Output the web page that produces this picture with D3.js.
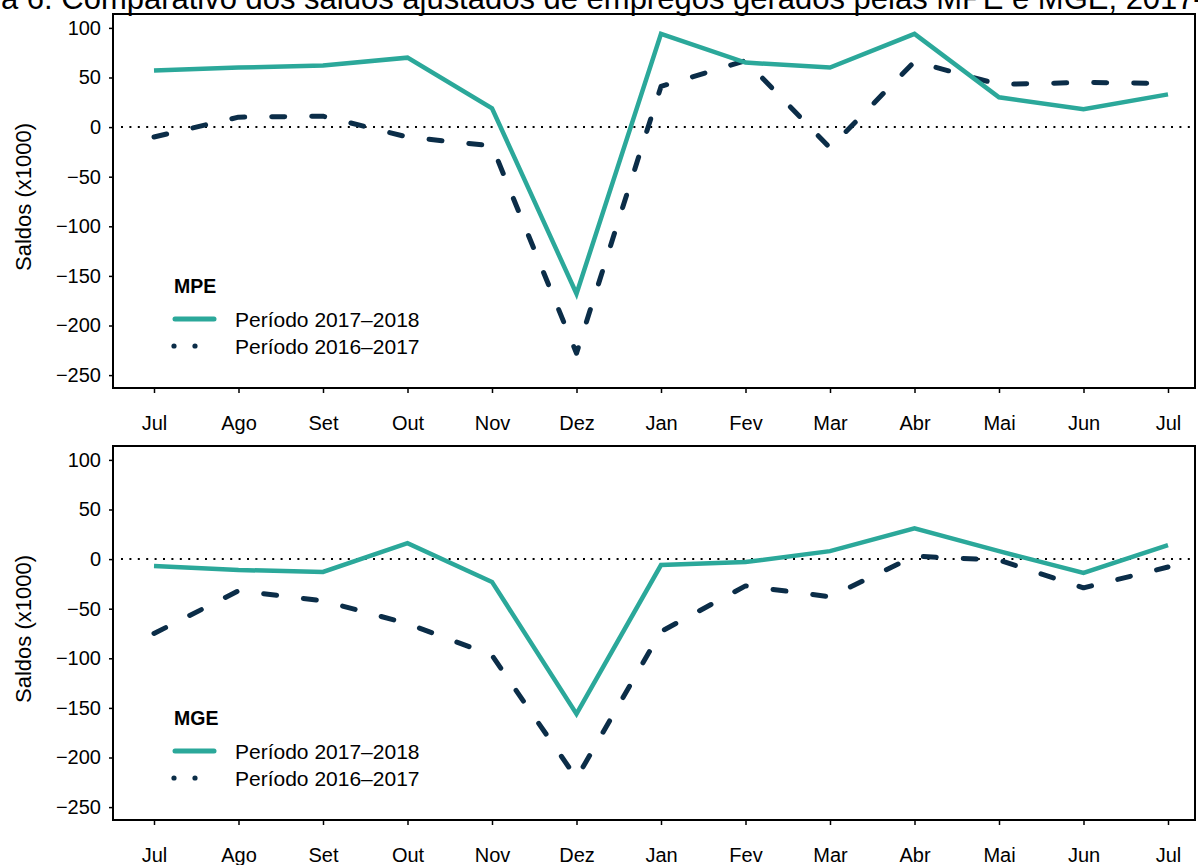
<html>
<head>
<style>
  body { margin: 0; background: #fff; }
  svg { font-family: "Liberation Sans", Arial, sans-serif; }
  .axis path { display: none; }
  .axis line { stroke: #000; stroke-width: 1.5; }
  .axis text { fill: #000; font-size: 20px; }
</style>
</head>
<script src="https://d3js.org/d3.v7.min.js"></script>
<body>
<div id="chart"></div>
<script>

// months Jul/2017 .. Jul/2018
var months = ["Jul", "Ago", "Set", "Out", "Nov", "Dez", "Jan", "Fev", "Mar", "Abr", "Mai", "Jun", "Jul"];
var yTicks = [100, 50, 0, -50, -100, -150, -200, -250];

// saldos (x1000)
var mpe1718 = [57, 60, 62, 70, 19, -168, 94, 65, 60, 94, 30, 18, 33];
var mpe1617 = [-10, 10, 11, -10, -19, -228, 41, 67, -21, 66, 43, 45, 44];
var mge1718 = [-7, -11, -13, 16, -23, -156, -6, -3, 8, 31, 8, -14, 14];
var mge1617 = [-75, -32, -42, -65, -97, -221, -73, -27, -38, 3, -1, -29, -8];

var seriesNames = ["Período 2017–2018", "Período 2016–2017"];
var colors = ["#2ba89a", "#0b2d48"];

var W = 1198, H = 865;
var left = 113, right = 1195;

var svg = d3.select("#chart").append("svg")
    .attr("width", W)
    .attr("height", H);

// title, partly outside the picture like the reference
var title = svg.append("text")
    .attr("y", 9)
    .style("font-size", "30px")
    .style("fill", "#000")
    .text("Figura 6: Comparativo dos saldos ajustados de empregos gerados pelas MPE e MGE, 2017–2018");
var node = title.node();
// "a 6: ... 2017" is the part that shows
var visible = node.getSubStringLength(5, 79);
var fs = 30 * 1194 / visible;
title.style("font-size", fs + "px");
title.attr("x", -node.getSubStringLength(0, 5) + 1);

var x = d3.scalePoint()
    .domain(d3.range(months.length))
    .range([154, 1168]);

function drawPanel(top, bottom, s1, s2, name) {
  var y = d3.scaleLinear().domain([-263, 114]).range([bottom, top]);

  var g = svg.append("g");

  // box
  g.append("rect")
      .attr("x", left)
      .attr("y", top)
      .attr("width", right - left)
      .attr("height", bottom - top)
      .style("fill", "none")
      .style("stroke", "#000")
      .style("stroke-width", 2);

  g.append("g")
      .attr("class", "axis")
      .attr("transform", "translate(" + left + ",0)")
      .call(d3.axisLeft(y).tickValues(yTicks).tickSize(4).tickPadding(8)
        .tickFormat(function(d) { return d < 0 ? "\u2212" + (-d) : d; }));

  g.append("g")
      .attr("class", "axis")
      .attr("transform", "translate(0," + bottom + ")")
      .call(d3.axisBottom(x).tickSize(5).tickPadding(23)
        .tickFormat(function(i) { return months[i]; }));

  g.append("text")
      .attr("transform", "translate(31," + ((top + bottom) / 2 - 4) + ") rotate(-90)")
      .style("text-anchor", "middle")
      .style("font-size", "22px")
      .text("Saldos (x1000)");

  // zero line
  g.append("line")
      .attr("x1", left + 8)
      .attr("x2", right)
      .attr("y1", y(0))
      .attr("y2", y(0))
      .style("stroke", "#000")
      .style("stroke-width", 2)
      .style("stroke-dasharray", "2,6.4");

  var line = d3.line()
      .x(function(d, i) { return x(i); })
      .y(function(d) { return y(d); });

  g.append("path")
      .datum(s2)
      .attr("d", line)
      .style("fill", "none")
      .style("stroke", colors[1])
      .style("stroke-width", 5)
      .style("stroke-linecap", "round")
      .style("stroke-linejoin", "round")
      .style("stroke-dasharray", "13,27");

  g.append("path")
      .datum(s1)
      .attr("d", line)
      .style("fill", "none")
      .style("stroke", colors[0])
      .style("stroke-width", 4.5)
      .style("stroke-linejoin", "miter");

  // legend
  var ly = bottom - 102;
  g.append("text")
      .attr("x", 174)
      .attr("y", ly)
      .attr("dy", ".35em")
      .style("font-size", "19.5px")
      .style("font-weight", "bold")
      .text(name);

  g.append("line")
      .attr("x1", 175).attr("x2", 214)
      .attr("y1", ly + 33).attr("y2", ly + 33)
      .style("stroke", colors[0])
      .style("stroke-width", 5)
      .style("stroke-linecap", "round");

  g.selectAll(".ldot")
      .data([174, 195])
      .enter()
      .append("circle")
      .attr("cx", function(d) { return d; })
      .attr("cy", ly + 60)
      .attr("r", 2.6)
      .style("fill", colors[1]);

  g.selectAll(".ltext")
      .data(seriesNames)
      .enter()
      .append("text")
      .attr("x", 235)
      .attr("y", function(d, i) { return ly + 34 + i * 27; })
      .attr("dy", ".35em")
      .style("font-size", "21px")
      .text(function(d) { return d; });
}

drawPanel(14, 388, mpe1718, mpe1617, "MPE");
drawPanel(446, 820, mge1718, mge1617, "MGE");

</script>
</body>
</html>
